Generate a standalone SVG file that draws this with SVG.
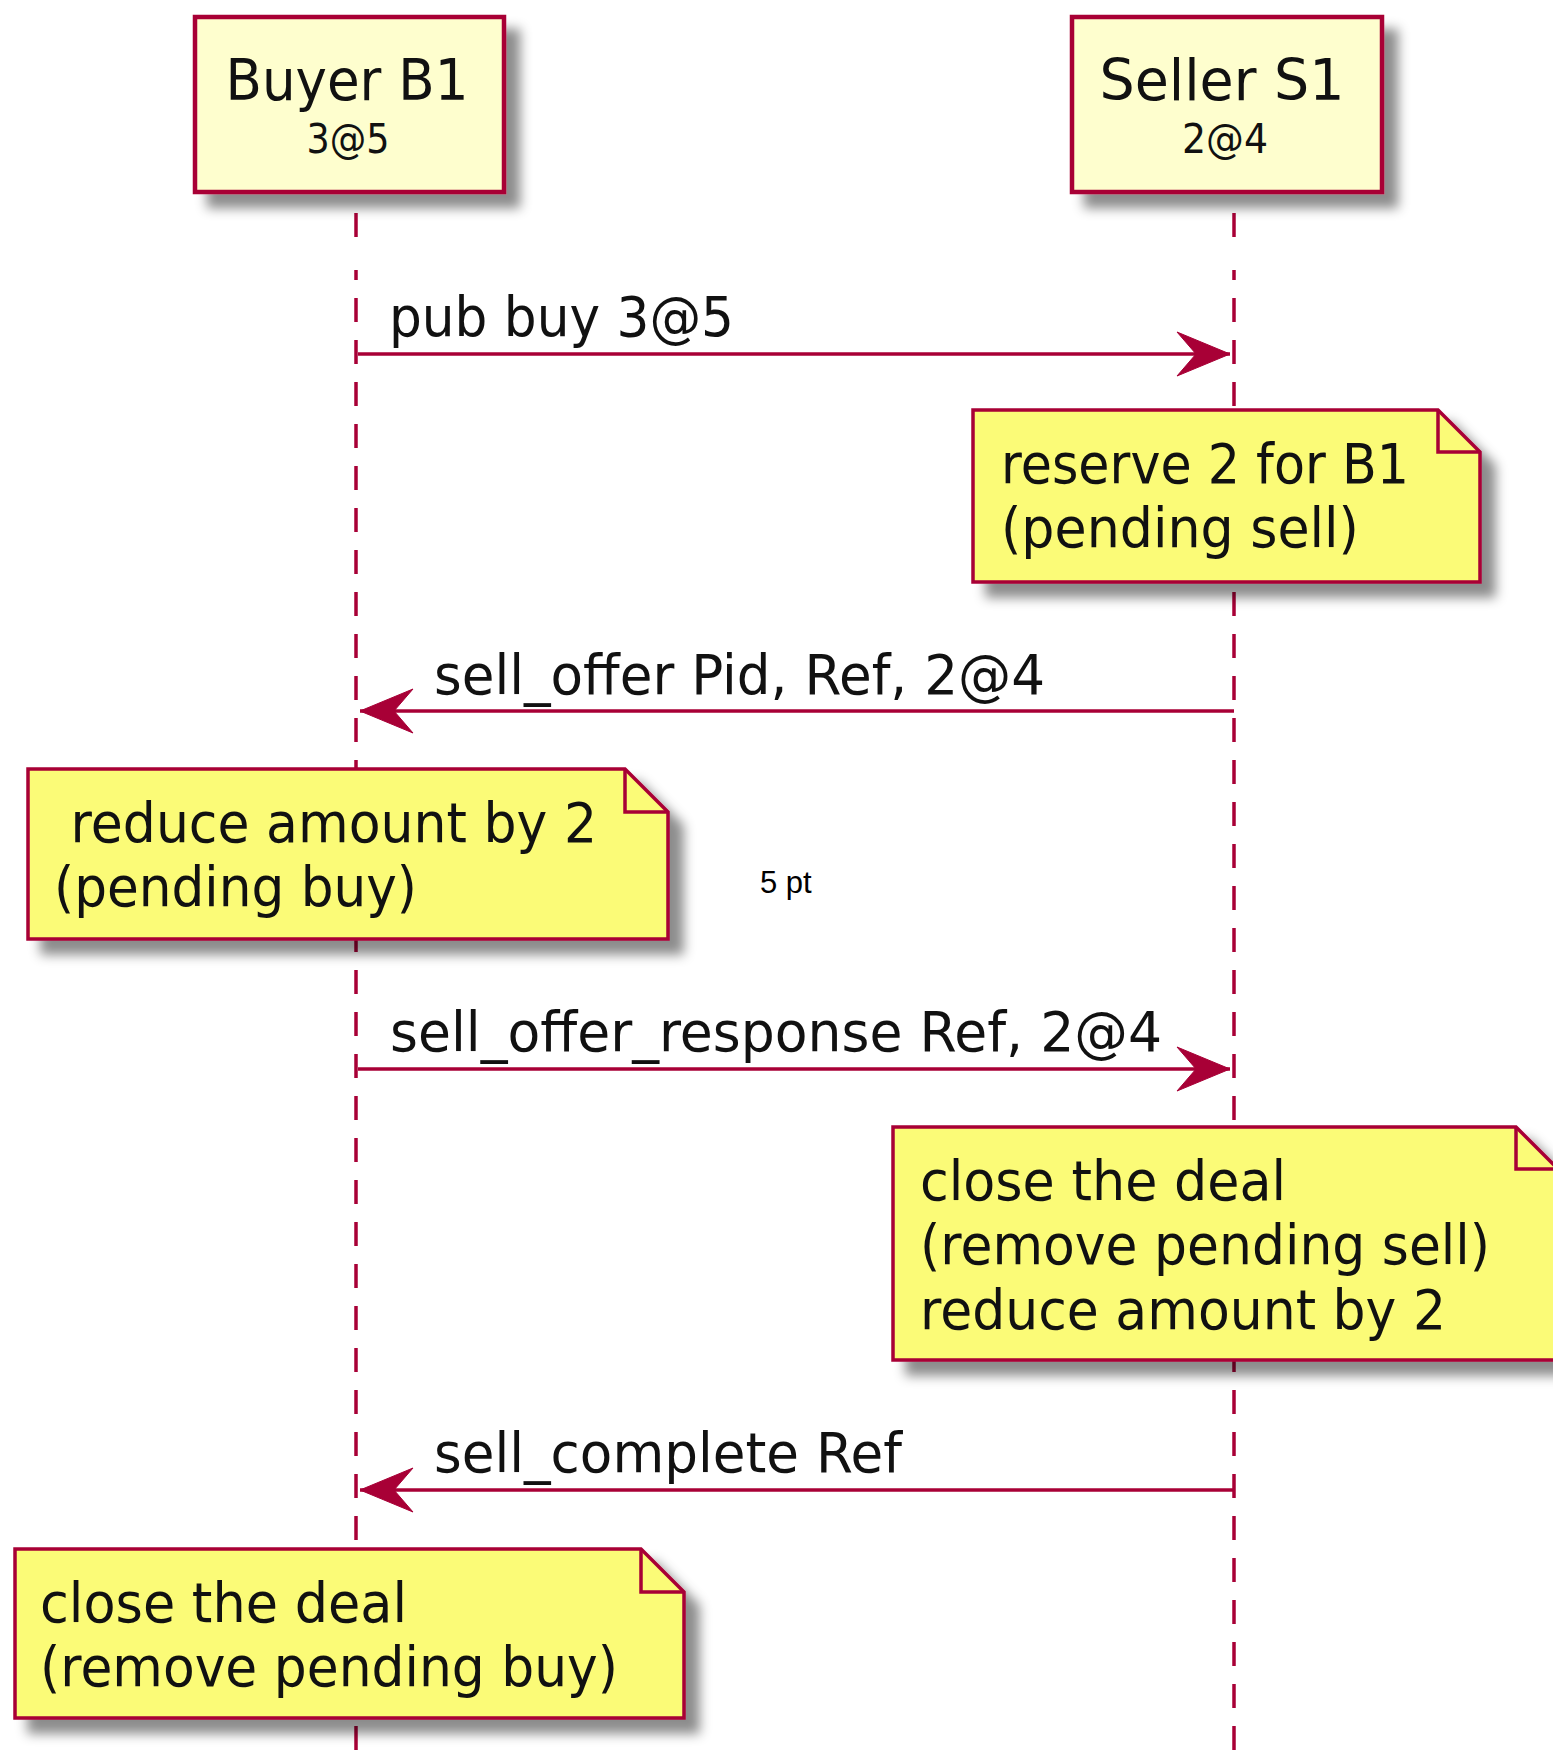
<svg xmlns="http://www.w3.org/2000/svg" width="1553" height="1757" viewBox="0 0 1553 1757">
  <style>
    .participant { fill: #FEFECE; stroke: #A80036; stroke-width: 4.5; }
    .note { fill: #FBFB77; stroke: #A80036; stroke-width: 3.5; stroke-linejoin: miter; }
    .fold { fill: none; stroke: #A80036; stroke-width: 3.5; }
    .lifeline { stroke: #A80036; stroke-width: 3.5; fill: none; }
    .message { stroke: #A80036; stroke-width: 3.5; fill: none; marker-end: url(#arrow); }
    .label { font-family: "DejaVu Sans", "Noto Sans", sans-serif; font-size: 55px; fill: #111; white-space: pre; }
    .title { font-family: "DejaVu Sans", "Noto Sans", sans-serif; font-size: 57px; fill: #111; text-anchor: middle; }
    .stereo { font-family: "DejaVu Sans", "Noto Sans", sans-serif; font-size: 40px; fill: #111; text-anchor: middle; }
    .plain { font-family: "Liberation Sans", Arial, sans-serif; font-size: 31px; fill: #000; }
  </style>
  <defs>
    <filter id="shadow" x="-10%" y="-10%" width="130%" height="150%">
      <feGaussianBlur in="SourceAlpha" stdDeviation="6"/>
      <feOffset dx="14" dy="14" result="blur"/>
      <feFlood flood-color="#000" flood-opacity="0.45"/>
      <feComposite in2="blur" operator="in"/>
      <feMerge>
        <feMergeNode/>
        <feMergeNode in="SourceGraphic"/>
      </feMerge>
    </filter>
    <marker id="arrow" markerUnits="userSpaceOnUse" markerWidth="56" markerHeight="48" refX="53" refY="22" orient="auto" overflow="visible">
      <path d="M0,0 L53,22 L0,44 L19,22 Z" fill="#A80036" stroke="#A80036" stroke-width="1"/>
    </marker>
  </defs>

  <rect width="1553" height="1757" fill="#FFFFFF"/>

  <!-- lifelines -->
  <g id="lifelines">
    <line class="lifeline" x1="356" y1="213" x2="356" y2="237"/>
    <line class="lifeline" x1="356" y1="270" x2="356" y2="1757" stroke-dasharray="24 18" stroke-dashoffset="14"/>
    <line class="lifeline" x1="1234" y1="213" x2="1234" y2="237"/>
    <line class="lifeline" x1="1234" y1="270" x2="1234" y2="1757" stroke-dasharray="24 18" stroke-dashoffset="14"/>
  </g>

  <!-- participants -->
  <g id="buyer">
    <rect class="participant" x="195" y="17" width="309" height="175" filter="url(#shadow)"/>
    <text class="title" x="347" y="100" textLength="243" lengthAdjust="spacingAndGlyphs">Buyer B1</text>
    <text class="stereo" x="348" y="153" textLength="83" lengthAdjust="spacingAndGlyphs">3@5</text>
  </g>
  <g id="seller">
    <rect class="participant" x="1072" y="17" width="310" height="175" filter="url(#shadow)"/>
    <text class="title" x="1222" y="100" textLength="245" lengthAdjust="spacingAndGlyphs">Seller S1</text>
    <text class="stereo" x="1225" y="153" textLength="86" lengthAdjust="spacingAndGlyphs">2@4</text>
  </g>

  <!-- messages -->
  <g id="connectors">
    <line class="message" x1="358" y1="354" x2="1230" y2="354"/>
    <line class="message" x1="1234" y1="711" x2="360" y2="711"/>
    <line class="message" x1="358" y1="1069" x2="1230" y2="1069"/>
    <line class="message" x1="1234" y1="1490" x2="360" y2="1490"/>
    <text class="label" x="389" y="336" textLength="345" lengthAdjust="spacingAndGlyphs">pub buy 3@5</text>
    <text class="label" x="434" y="694" textLength="611" lengthAdjust="spacingAndGlyphs">sell_offer Pid, Ref, 2@4</text>
    <text class="label" x="390" y="1051" textLength="772" lengthAdjust="spacingAndGlyphs">sell_offer_response Ref, 2@4</text>
    <text class="label" x="434" y="1472" textLength="468" lengthAdjust="spacingAndGlyphs">sell_complete Ref</text>
  </g>

  <!-- notes -->
  <g id="note-reserve">
    <path class="note" d="M973,410 H1438 L1480,452 V582 H973 Z" filter="url(#shadow)"/>
    <path class="fold" d="M1438,410 V452 H1480"/>
    <text class="label" x="1001" y="483" textLength="408" lengthAdjust="spacingAndGlyphs">reserve 2 for B1</text>
    <text class="label" x="1001" y="547" textLength="358" lengthAdjust="spacingAndGlyphs">(pending sell)</text>
  </g>

  <g id="note-reduce">
    <path class="note" d="M28,769 H625 L668,812 V939 H28 Z" filter="url(#shadow)"/>
    <path class="fold" d="M625,769 V812 H668"/>
    <text class="label" x="54" y="842" textLength="543" lengthAdjust="spacingAndGlyphs"> reduce amount by 2</text>
    <text class="label" x="54" y="906" textLength="363" lengthAdjust="spacingAndGlyphs">(pending buy)</text>
  </g>

  <g id="spacing-label">
    <text class="plain" x="760" y="893">5 pt</text>
  </g>

  <g id="note-close-sell">
    <path class="note" d="M893,1127 H1516 L1558,1169 V1360 H893 Z" filter="url(#shadow)"/>
    <path class="fold" d="M1516,1127 V1169 H1558"/>
    <text class="label" x="920" y="1200" textLength="366" lengthAdjust="spacingAndGlyphs">close the deal</text>
    <text class="label" x="920" y="1264" textLength="570" lengthAdjust="spacingAndGlyphs">(remove pending sell)</text>
    <text class="label" x="920" y="1329" textLength="526" lengthAdjust="spacingAndGlyphs">reduce amount by 2</text>
  </g>

  <g id="note-close-buy">
    <path class="note" d="M15,1549 H641 L684,1592 V1718 H15 Z" filter="url(#shadow)"/>
    <path class="fold" d="M641,1549 V1592 H684"/>
    <text class="label" x="40" y="1622" textLength="367" lengthAdjust="spacingAndGlyphs">close the deal</text>
    <text class="label" x="40" y="1686" textLength="578" lengthAdjust="spacingAndGlyphs">(remove pending buy)</text>
  </g>
</svg>
